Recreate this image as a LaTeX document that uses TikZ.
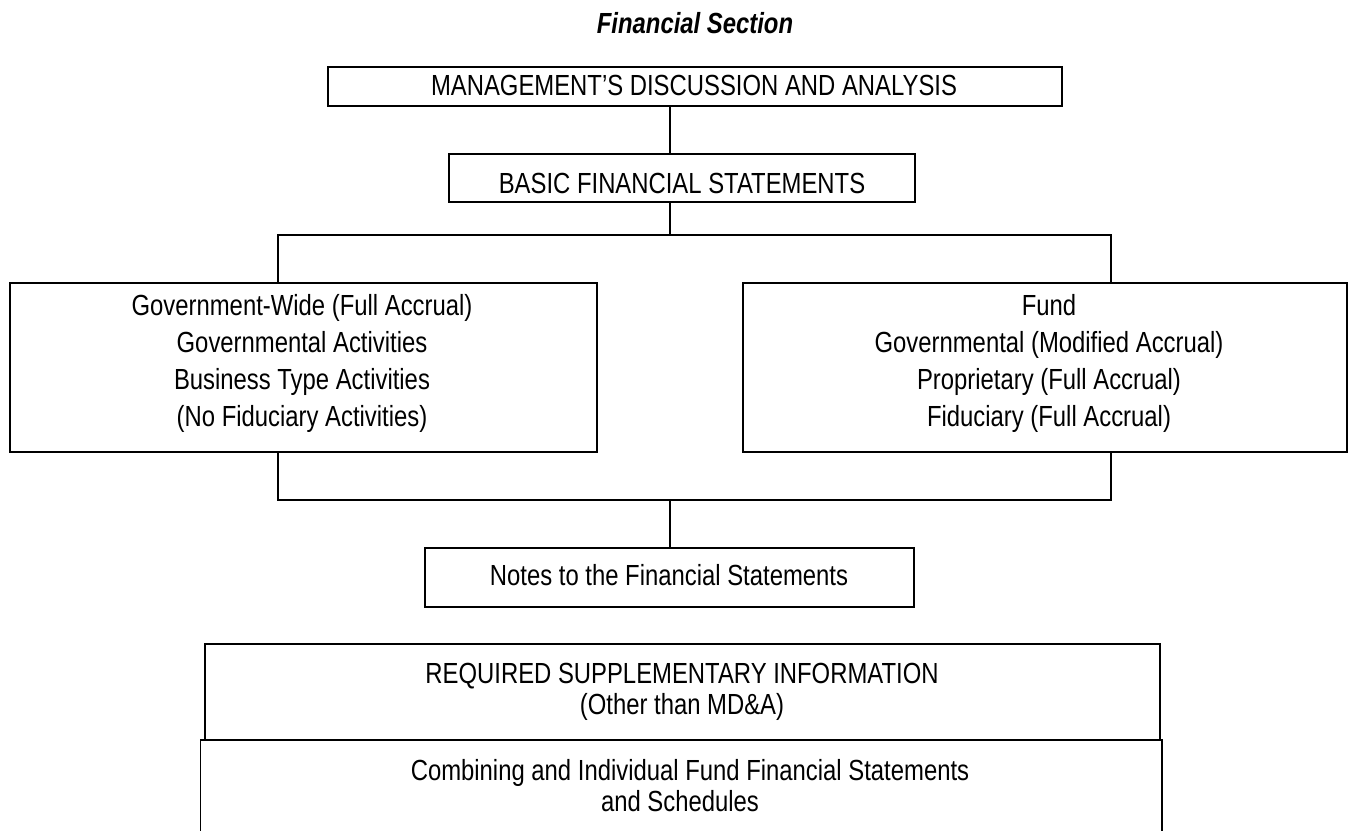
\documentclass[tikz,border=0pt]{standalone}
\usepackage{fontspec}
\setmainfont{Liberation Sans}[FakeStretch=0.82]
\usetikzlibrary{fit}
\begin{document}
\begin{tikzpicture}[x=0.5pt,y=-0.5pt,
  box/.style={draw, line width=0.9pt, inner sep=0pt},
  link/.style={draw, line width=1.35pt},
  txt/.style={anchor=base, inner sep=0pt, font={\fontsize{14.55pt}{17pt}\selectfont}},
  ttl/.style={anchor=base, inner sep=0pt, font={\fontsize{14.55pt}{17pt}\selectfont\bfseries\itshape}}]
\useasboundingbox (0,0) rectangle (1354,830);
\clip (0,0) rectangle (1354,830);
% boxes
\node[box, fit={(328,67) (1062,106)}] (md) {};
\node[box, fit={(449,154) (915,202)}] (bfs) {};
\node[box, fit={(10,283) (597,452)}] (gw) {};
\node[box, fit={(743,283) (1347,452)}] (fund) {};
\node[box, fit={(425,548) (914,607)}] (notes) {};
\node[box, fit={(205,644) (1160,740)}] (rsi) {};
\node[box, fit={(200.5,740) (1162,860)}] (comb) {};
% texts
\node[ttl] (title) at (695,33) {Financial Section};
\node[txt] (mdt) at (694,95.5) {MANAGEMENT’S DISCUSSION AND ANALYSIS};
\node[txt] (bfst) at (682,193) {BASIC FINANCIAL STATEMENTS};
\node[txt] (gw1) at (302,315) {Government-Wide (Full Accrual)};
\node[txt] (gw2) at (302,352) {Governmental Activities};
\node[txt] (gw3) at (302,389) {Business Type Activities};
\node[txt] (gw4) at (302,426) {(No Fiduciary Activities)};
\node[txt] (fd1) at (1049,315) {Fund};
\node[txt] (fd2) at (1049,352) {Governmental (Modified Accrual)};
\node[txt] (fd3) at (1049,389) {Proprietary (Full Accrual)};
\node[txt] (fd4) at (1049,426) {Fiduciary (Full Accrual)};
\node[txt] (nt) at (669,585) {Notes to the Financial Statements};
\node[txt] (rs1) at (682,683) {REQUIRED SUPPLEMENTARY INFORMATION};
\node[txt] (rs2) at (682,714) {(Other than MD\&A)};
\node[txt] (cb1) at (690,780) {Combining and Individual Fund Financial Statements};
\node[txt] (cb2) at (680,811) {and Schedules};
% connectors
\coordinate (sp) at (670,0);
\coordinate (lx) at (278,0);
\coordinate (rx) at (1111,0);
\coordinate (j1) at (670,235);
\coordinate (j2) at (670,500);
\draw[link] (md.south -| sp) -- (bfs.north -| sp);
\draw[link] (bfs.south -| sp) -- (j1);
\draw[link] (gw.north -| lx) |- (j1) -| (fund.north -| rx);
\draw[link] (gw.south -| lx) |- (j2) -| (fund.south -| rx);
\draw[link] (j2) -- (notes.north -| sp);
\end{tikzpicture}
\end{document}
